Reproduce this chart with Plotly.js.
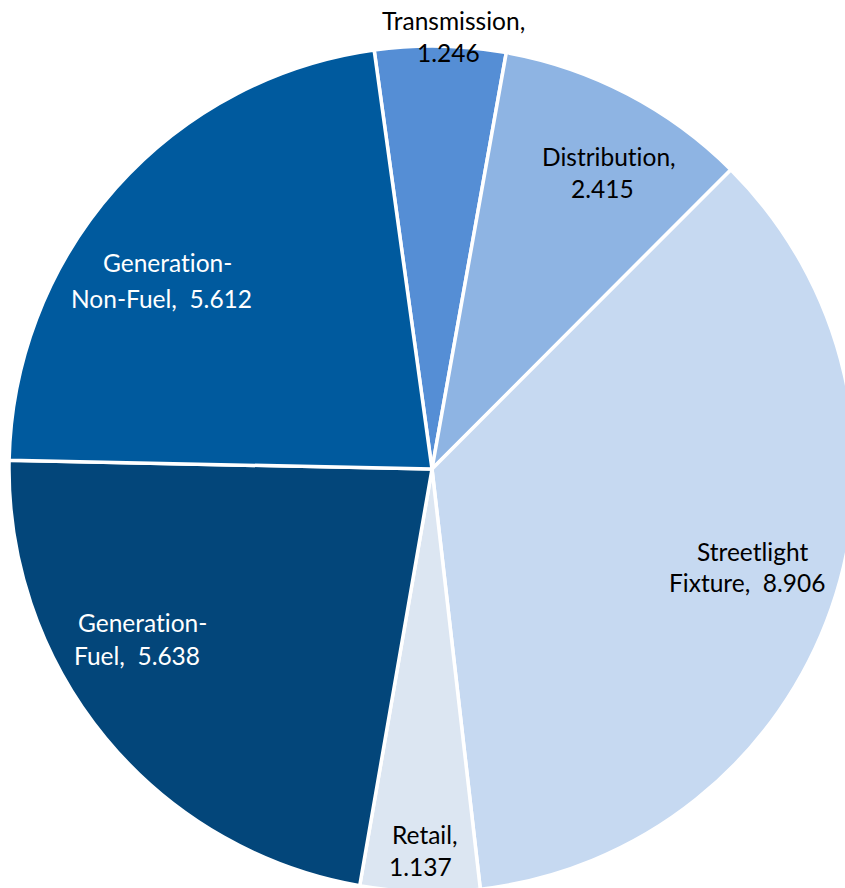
<!DOCTYPE html>
<html>
<head>
<meta charset="utf-8">
<script src="https://cdn.plot.ly/plotly-3.0.1.min.js"></script>
<style>
html,body{margin:0;padding:0;overflow:hidden;background:#fff;width:845px;height:888px;}
#chart{width:870px;height:900px;}
text{font-variant-ligatures:none;font-feature-settings:"liga" 0;}
</style>
</head>
<body>
<div id="chart"></div>
<script>
// Data (clockwise from the top)
const categories = ["Transmission", "Distribution", "Streetlight Fixture", "Retail", "Generation-Fuel", "Generation-Non-Fuel"];
const values = [1.246, 2.415, 8.906, 1.137, 5.638, 5.612];
const colors = ["#558ED5", "#8EB4E3", "#C6D9F1", "#DCE6F2", "#03467A", "#005A9E"];
// Label lines as shown in the chart
const labelLine1 = ["Transmission,", "Distribution,", "Streetlight", "Retail,", "Generation-", "Generation-"];
const labelLine2 = ["1.246", "2.415", "Fixture,\u00A0 8.906", "1.137", "Fuel,\u00A0 5.638", "Non-Fuel,\u00A0 5.612"];
const labelColors = ["#000000", "#000000", "#000000", "#000000", "#FFFFFF", "#FFFFFF"];

const W = 870, H = 900;
// label anchor positions (pixels): [line1 x, line1 y, line2 x, line2 y]
const labelPos = [
  [453, 20, 448, 53],
  [609, 157, 602, 188],
  [752, 551, 747, 582],
  [425, 834, 420, 866],
  [142, 622, 137, 655],
  [167, 263, 161, 298]
];

const annotations = [];
categories.forEach((c, i) => {
  const p = labelPos[i];
  [[labelLine1[i], p[0], p[1]], [labelLine2[i], p[2], p[3]]].forEach(l => {
    annotations.push({
      text: l[0], x: l[1] / W, y: 1 - l[2] / H, xref: "paper", yref: "paper",
      xanchor: "center", yanchor: "middle", showarrow: false,
      font: {family: "Lato, 'Open Sans', sans-serif", size: 24.5, color: labelColors[i]}
    });
  });
});

const trace = {
  type: "pie",
  labels: categories,
  values: values,
  sort: false,
  direction: "clockwise",
  rotation: -7.86,
  marker: {colors: colors, line: {color: "#FFFFFF", width: 3.5}},
  textinfo: "none",
  hoverinfo: "label+value",
  showlegend: false,
  domain: {x: [9 / W, 855 / W], y: [(H - 892) / H, (H - 46) / H]}
};

Plotly.newPlot("chart", [trace], {
  width: W, height: H,
  margin: {l: 0, r: 0, t: 0, b: 0},
  paper_bgcolor: "#FFFFFF",
  showlegend: false,
  annotations: annotations
}, {displayModeBar: false, staticPlot: true});
</script>
</body>
</html>
